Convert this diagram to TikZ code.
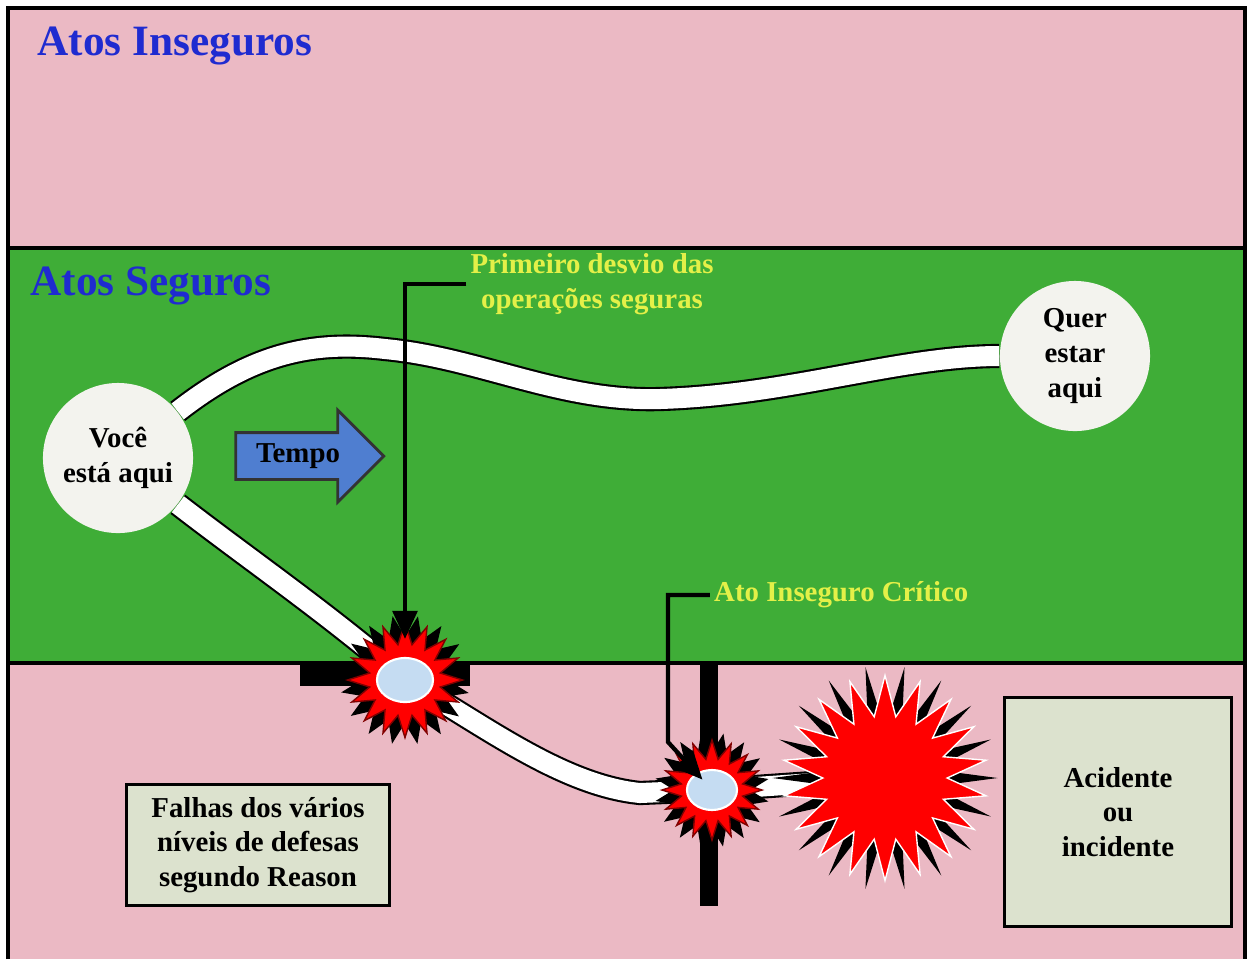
\documentclass[tikz,border=0pt]{standalone}
\usepackage{fontspec}
\setmainfont{Liberation Serif}
\usetikzlibrary{shapes.geometric,shapes.arrows,arrows.meta}
\definecolor{unsafe}{HTML}{EBB9C4}
\definecolor{safe}{HTML}{3FAD37}
\definecolor{titleblue}{HTML}{1F2BD0}
\definecolor{labelyellow}{HTML}{E4F048}
\definecolor{notefill}{HTML}{DCE2CE}
\definecolor{bubblefill}{HTML}{F3F3EE}
\definecolor{timeblue}{HTML}{4F7ED0}
\definecolor{lensfill}{HTML}{C5DCF2}
\pgfdeclarelayer{bg}
\pgfdeclarelayer{roads}
\pgfsetlayers{bg,roads,main}

\begin{document}
\begin{tikzpicture}[x=.01cm, y=-.01cm, font=\fontsize{8.2}{9.9}\selectfont\bfseries,
  title/.style={anchor=base west, inner sep=0pt, font=\fontsize{12.3}{14}\selectfont\bfseries, text=titleblue},
  bubble/.style={circle, fill=bubblefill, minimum size=1.5cm, inner sep=0pt, align=center},
  note/.style={draw=black, line width=1pt, fill=notefill, align=center},
  spikes/.style={star, star points=#1, inner sep=0pt},
  lens/.style={ellipse, fill=lensfill, draw=white, line width=.6pt, inner sep=0pt},
  callout/.style={draw=black, line width=1.2pt, -{Triangle[length=8pt,width=7pt]}},
  road/.style={draw=black, line width=.6pt, double=white, double distance=.2cm}]
  \useasboundingbox (0,0) rectangle (1253,959);

  % zones
  \begin{pgfonlayer}{bg}
    \fill[unsafe] (8,8) rectangle (1245,248);
    \fill[safe] (8,248) rectangle (1245,663);
    \fill[unsafe] (8,663) rectangle (1245,959);
    \draw[line width=1pt] (8,959) -- (8,8) -- (1245,8) -- (1245,959);
    \draw[line width=1pt] (8,248) -- (1245,248) (8,663) -- (1245,663);
  \end{pgfonlayer}
  \node[title] (unsafetitle) at (37,55) {Atos Inseguros};
  \node[title] (safetitle) at (30,295) {Atos Seguros};

  % defence barriers
  \fill (300,664) rectangle (470,686);
  \fill (700,664) rectangle (718,906);

  \node[bubble] (you) at (118,458) {Você\\está aqui};
  \node[bubble] (goal) at (1075,356) {Quer\\estar\\aqui};
  \node[single arrow, draw=black!80, line width=.8pt, fill=timeblue, minimum height=1.48cm,
    single arrow head extend=.225cm, inner ysep=2.7pt] (time) at (298,456) {Tempo};

  % bursts
  \foreach \nm/\x/\y/\sz/\shade/\lw/\lh in {first/405/680/1.15cm/1.3cm/.56cm/.44cm, critical/712/790/1.0cm/1.15cm/.5cm/.4cm} {
    \node[spikes=16, fill=black, minimum size=\shade, rotate=11] (\nm-shade) at (\x,\y) {};
    \node[spikes=16, star point ratio=1.6, fill=red, draw=red!50!black, minimum size=\sz] (\nm-burst) at (\x,\y) {};
    \node[lens, minimum width=\lw, minimum height=\lh] (\nm-lens) at (\x,\y) {};
  }
  \node[spikes=18, star point ratio=2.3, fill=black, minimum size=2.25cm, rotate=10] (accidentshade) at (885,778) {};
  \node[spikes=18, star point ratio=1.65, fill=red, draw=white, line width=.4pt, minimum size=2.05cm] (accident) at (885,778) {};

  \begin{pgfonlayer}{roads}
    \draw[road] (you) .. controls (250,355) and (310,340) .. (385,349)
      .. controls (480,358) and (560,402) .. (660,399)
      .. controls (790,395) and (900,356) .. (goal);
    \draw[road] (you) .. controls (250,560) and (330,615) .. (first-burst.center)
      .. controls (480,722) and (560,785) .. (640,793)
      -- (critical-burst.center) -- (accident.center);
  \end{pgfonlayer}

  % callouts
  \node[text=labelyellow, align=center, inner xsep=1pt] (deviation) at (592,284) {Primeiro desvio das\\operações seguras};
  \draw[callout, shorten >=.18cm] (deviation.west) -| (first-lens.north);
  \node[text=labelyellow, anchor=west, inner xsep=1pt] (criticallabel) at (710,595) {Ato Inseguro Crítico};
  \coordinate (critbend) at (668,742);
  \draw[callout, shorten >=4pt] (criticallabel.west) -| (critbend) -- (critical-lens.center);

  \node[note, minimum width=2.63cm, minimum height=1.21cm] (reason) at (258,845) {Falhas dos vários\\níveis de defesas\\segundo Reason};
  \node[note, minimum width=2.27cm, minimum height=2.29cm] (outcome) at (1118,812) {Acidente\\ou\\incidente};
\end{tikzpicture}
\end{document}
